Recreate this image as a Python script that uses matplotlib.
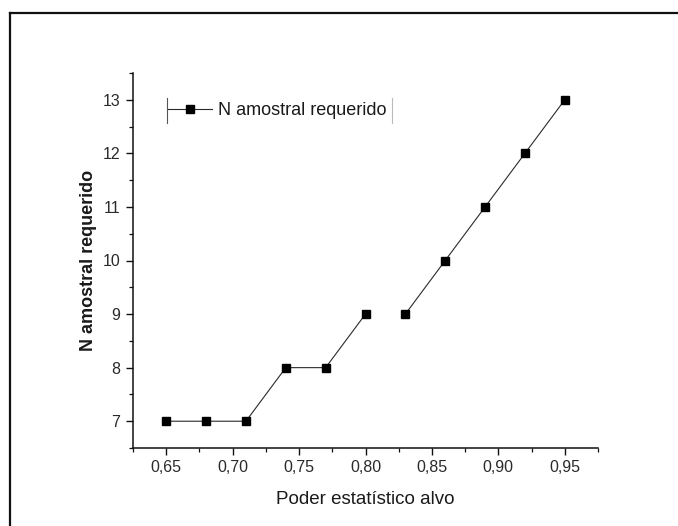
import numpy as np
import matplotlib
matplotlib.use("Agg")
import matplotlib.pyplot as plt
from matplotlib.lines import Line2D
from matplotlib.ticker import MultipleLocator, FixedLocator

plt.rcParams['font.family'] = ['Liberation Sans', 'DejaVu Sans']

# data
poder = [0.65, 0.68, 0.71, 0.74, 0.77, 0.80, 0.83, 0.86, 0.89, 0.92, 0.95]
n_amostral = [7, 7, 7, 8, 8, 9, 9, 10, 11, 12, 13]
gap_after = 5  # the connecting line breaks between 0.80 and 0.83

x_ticks = [0.65, 0.70, 0.75, 0.80, 0.85, 0.90, 0.95]
x_ticklabels = ['0,65', '0,70', '0,75', '0,80', '0,85', '0,90', '0,95']
y_ticks = [7, 8, 9, 10, 11, 12, 13]

W, H = 678, 526
fig = plt.figure(figsize=(W / 100, H / 100), dpi=100)
ax = fig.add_axes([133 / W, 1 - 448 / H, (598 - 133) / W, (448 - 73) / H])

text_col = '#1a1a1a'
style = dict(color='#2a2a2a', lw=0.8, marker='s', markersize=5.8,
             markerfacecolor='black', markeredgecolor='black')
ax.plot(poder[:gap_after + 1], n_amostral[:gap_after + 1],
        label='N amostral requerido', **style)
ax.plot(poder[gap_after + 1:], n_amostral[gap_after + 1:], **style)

ax.set_xlim(0.625, 0.975)
ax.set_ylim(6.5, 13.5)
ax.xaxis.set_major_locator(FixedLocator(x_ticks))
ax.set_xticklabels(x_ticklabels)
ax.xaxis.set_minor_locator(FixedLocator(np.arange(0.625, 0.976, 0.05)))
ax.yaxis.set_major_locator(FixedLocator(y_ticks))
ax.yaxis.set_minor_locator(MultipleLocator(0.5))

for s in ['top', 'right']:
    ax.spines[s].set_visible(False)
for s in ['left', 'bottom']:
    ax.spines[s].set_linewidth(1.1)
    ax.spines[s].set_color('#111111')

ax.tick_params(which='major', direction='out', length=5, width=1.0,
               labelsize=11.5, colors='#111111', labelcolor='#2a2a2a', pad=4)
ax.tick_params(which='minor', direction='out', length=3, width=0.9,
               colors='#111111')

ax.set_xlabel('Poder estatístico alvo', fontsize=13.5, color=text_col, labelpad=11)
ax.set_ylabel('N amostral requerido', fontsize=13, fontweight='bold', color=text_col)
ax.yaxis.set_label_coords(-0.077, 0.5)

leg = ax.legend(loc='center left', bbox_to_anchor=(0.073, 0.899),
                frameon=False, fontsize=13, handlelength=2.5,
                handletextpad=0.3, borderpad=0.0, borderaxespad=0.0,
                labelcolor=text_col)

# side bars of the legend box, as in the original
fig.canvas.draw()
bb = leg.get_window_extent().transformed(fig.transFigure.inverted())
y0, y1 = 1 - 123 / H, 1 - 98 / H
fig.add_artist(Line2D([bb.x0, bb.x0], [y0, y1], color='#555555', lw=0.8))
fig.add_artist(Line2D([bb.x1 + 6 / W, bb.x1 + 6 / W], [y0, y1], color='#bbbbbb', lw=0.8))

# outer frame (top and left edges visible)
fy = 1 - 13 / H
fx = 10 / W
fig.add_artist(Line2D([fx, 1], [fy, fy], color='#111111', lw=1.6))
fig.add_artist(Line2D([fx, fx], [0, fy], color='#111111', lw=1.6))

fig.savefig('out.png', dpi=100)
